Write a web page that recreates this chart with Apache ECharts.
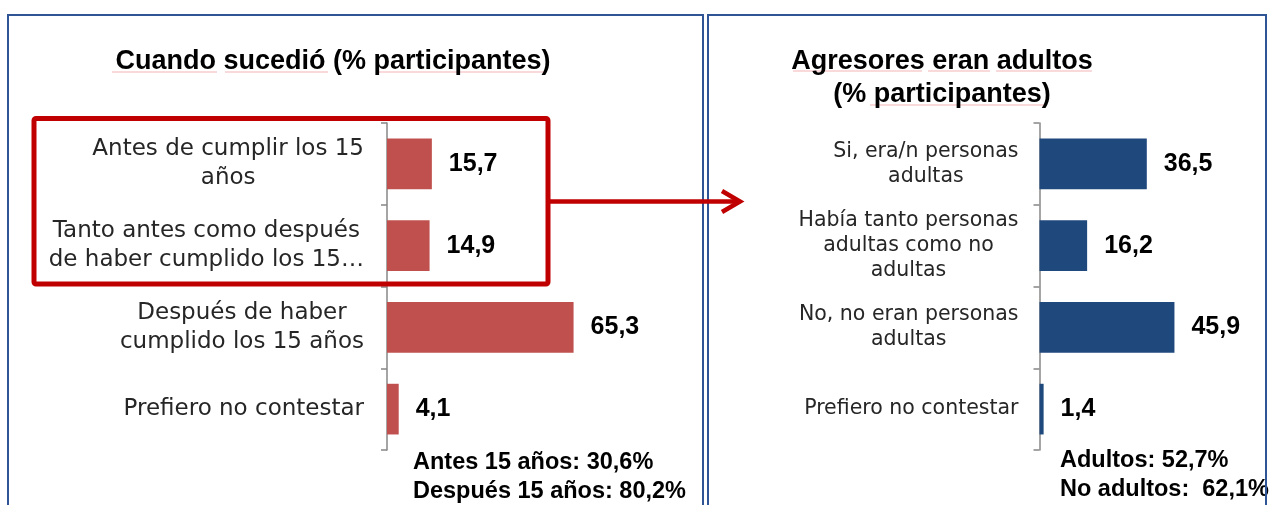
<!DOCTYPE html>
<html>
<head>
<meta charset="utf-8">
<script src="https://cdn.jsdelivr.net/npm/echarts@6/dist/echarts.min.js"></script>
<style>
  html, body { margin: 0; padding: 0; background: #fff; }
  #chart { width: 1272px; height: 505px; }
</style>
</head>
<body>
<div id="chart"></div>
<script>
// datos
const cuandoCategorias = [
  'Antes de cumplir los 15\naños',
  'Tanto antes como después\nde haber cumplido los 15…',
  'Después de haber\ncumplido los 15 años',
  'Prefiero no contestar'
];
const cuandoValores = [15.7, 14.9, 65.3, 4.1];

const adultosCategorias = [
  'Si, era/n personas\nadultas',
  'Había tanto personas\nadultas como no\nadultas',
  'No, no eran personas\nadultas',
  'Prefiero no contestar'
];
const adultosValores = [36.5, 16.2, 45.9, 1.4];

const cuandoResumen = ['Antes 15 años: 30,6%', 'Después 15 años: 80,2%'];
const adultosResumen = ['Adultos: 52,7%', 'No adultos:  62,1%'];

const myChart = echarts.init(document.getElementById('chart'));

const boldFont = '"Liberation Sans", Arial, sans-serif';
const labelFont = '"DejaVu Sans", sans-serif';
const axisGray = '#878787';

// cada linea centrada dentro del bloque
function catLabel(value) {
  return value.split('\n').map(l => '{c|' + l + '}').join('\n');
}

function yAxisFor(gridIndex, cats, size, lh, margin) {
  return {
    type: 'category',
    gridIndex: gridIndex,
    data: cats,
    inverse: true,
    axisLine: { show: true, lineStyle: { color: axisGray, width: 1.5 } },
    axisTick: { show: true, inside: false, alignWithLabel: false, interval: 0, length: 6, lineStyle: { color: axisGray, width: 1.5 } },
    splitLine: { show: false },
    axisLabel: {
      margin: margin,
      fontSize: size,
      lineHeight: lh,
      fontFamily: labelFont,
      color: '#262626',
      formatter: catLabel,
      rich: {
        c: { align: 'center', fontSize: size, lineHeight: lh, fontFamily: labelFont, color: '#262626' }
      }
    }
  };
}

function barSeries(idx, values, color) {
  return {
    type: 'bar',
    xAxisIndex: idx,
    yAxisIndex: idx,
    data: values,
    barCategoryGap: '38%',
    itemStyle: { color: color },
    label: {
      show: true,
      position: 'right',
      distance: 17,
      fontFamily: boldFont,
      fontWeight: 'bold',
      fontSize: 25,
      color: '#000',
      formatter: p => String(p.value).replace('.', ',')
    }
  };
}

function resumen(lines, x, y0, gap) {
  return lines.map((t, i) => ({
    type: 'text',
    z: 5,
    style: {
      text: t,
      x: x,
      y: y0 + i * gap,
      verticalAlign: 'middle',
      font: 'bold 23.5px ' + boldFont,
      fill: '#000'
    }
  }));
}

function subrayado(x1, x2, y) {
  return {
    type: 'line',
    z: 4,
    shape: { x1: x1, y1: y, x2: x2, y2: y },
    style: { stroke: '#f3b3b3', lineWidth: 1.2 }
  };
}

const titleStyle = {
  fontFamily: boldFont,
  fontWeight: 'bold',
  fontSize: 27,
  color: '#000',
  lineHeight: 33
};

const option = {
  backgroundColor: '#fff',
  animation: false,
  title: [
    { text: 'Cuando sucedió (% participantes)', left: 333, top: 45.5, textAlign: 'center', padding: 0, textStyle: titleStyle },
    { text: 'Agresores eran adultos\n(% participantes)', left: 942, top: 45, textAlign: 'center', padding: 0, textStyle: titleStyle }
  ],
  grid: [
    { left: 387, top: 123, width: 200, height: 327, outerBoundsMode: 'none' },
    { left: 1039.5, top: 123, width: 205.8, height: 327, outerBoundsMode: 'none' }
  ],
  xAxis: [
    { type: 'value', gridIndex: 0, min: 0, max: 70, show: false },
    { type: 'value', gridIndex: 1, min: 0, max: 70, show: false }
  ],
  yAxis: [
    yAxisFor(0, cuandoCategorias, 23, 29, 23),
    yAxisFor(1, adultosCategorias, 20.5, 25, 21)
  ],
  series: [
    barSeries(0, cuandoValores, '#c0504d'),
    barSeries(1, adultosValores, '#1f497d')
  ],
  graphic: [
    // marcos de los paneles
    { type: 'rect', z: 10, shape: { x: 8, y: 15, width: 695, height: 530 }, style: { fill: 'none', stroke: '#2f5597', lineWidth: 2 } },
    { type: 'rect', z: 10, shape: { x: 708, y: 15, width: 558, height: 530 }, style: { fill: 'none', stroke: '#2f5597', lineWidth: 2 } },
    // recuadro rojo y flecha
    { type: 'rect', z: 20, shape: { x: 34, y: 118.5, width: 514, height: 165.5, r: 2 }, style: { fill: 'none', stroke: '#c00000', lineWidth: 5 } },
    { type: 'polyline', z: 20, shape: { points: [[548, 201.5], [739, 201.5]] }, style: { stroke: '#c00000', lineWidth: 4.5 } },
    { type: 'polyline', z: 20, shape: { points: [[722, 191], [740, 201.5], [722, 212]] }, style: { stroke: '#c00000', lineWidth: 4.5, lineJoin: 'miter' } },
    // subrayados del corrector
    subrayado(112, 217, 72), subrayado(225, 328, 72), subrayado(377, 545, 72),
    subrayado(793, 922, 71), subrayado(928, 990, 71), subrayado(996, 1092, 71),
    subrayado(870, 1045, 105)
  ].concat(resumen(cuandoResumen, 413, 463, 29), resumen(adultosResumen, 1060, 461, 29))
};

myChart.setOption(option);
</script>
</body>
</html>
